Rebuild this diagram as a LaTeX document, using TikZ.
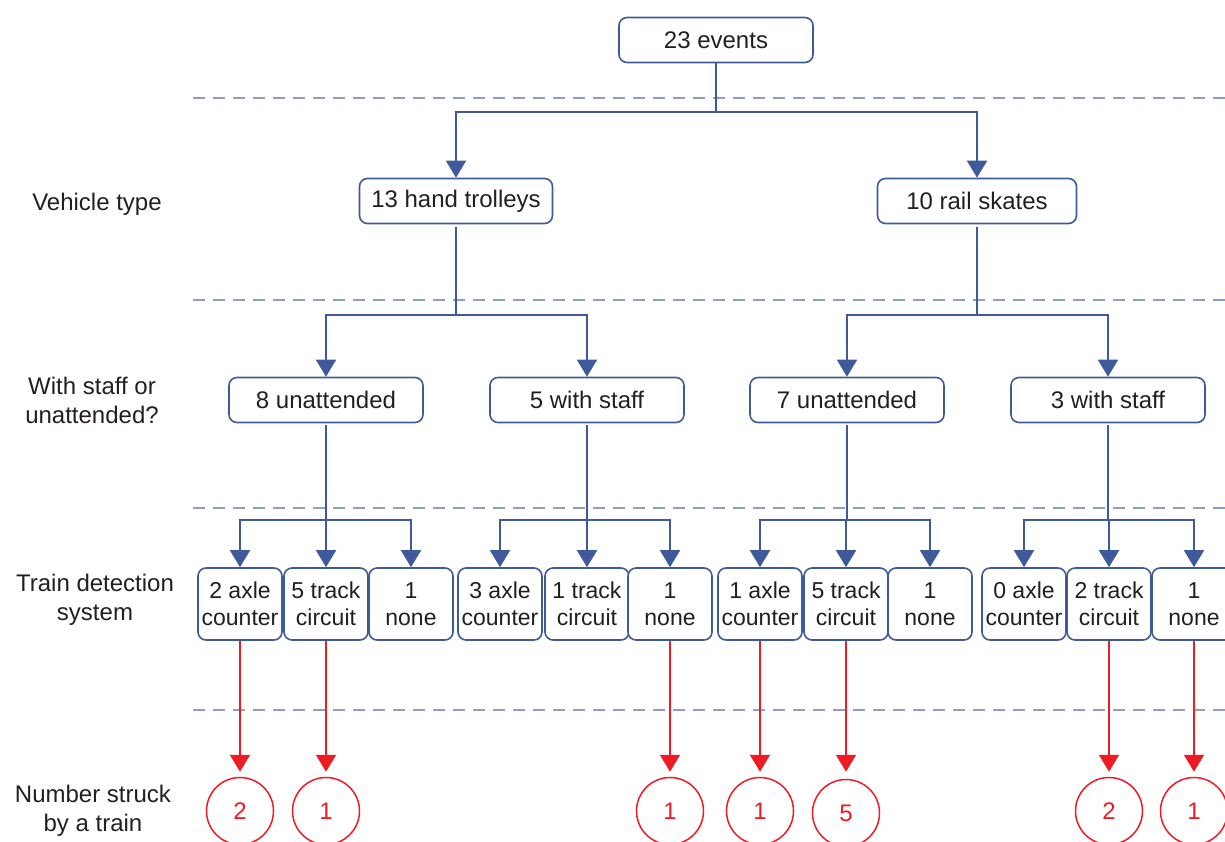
\documentclass[tikz,border=0pt]{standalone}
\usepackage{fontspec}
\setmainfont{Liberation Sans}
\usetikzlibrary{arrows.meta}
\definecolor{nblue}{HTML}{3F5A9B}
\definecolor{dashc}{HTML}{8E9CC8}
\definecolor{nred}{HTML}{ED1C24}
\definecolor{txt}{HTML}{231F20}
\tikzset{
  box/.style={draw=nblue, line width=1.6pt, rounded corners=8pt, fill=white, text=txt,
    font=\fontsize{24}{28}\selectfont, inner sep=2pt},
  big/.style={box, minimum width=194pt, minimum height=45pt},
  small/.style={box, minimum width=84pt, minimum height=72pt, align=center,
    font=\fontsize{23}{27}\selectfont},
  hit/.style={draw=nred, line width=1.5pt, circle, minimum size=67pt, inner sep=0pt,
    text=nred, font=\fontsize{24}{28}\selectfont},
  lbl/.style={align=center, text=txt, font=\fontsize{24}{29}\selectfont},
  barr/.style={draw=nblue, line width=1.8pt, -{Triangle[width=20pt,length=17pt]}},
  rarr/.style={draw=nred, line width=1.8pt, -{Triangle[width=20pt,length=17pt]}, shorten >=5pt},
  sep/.style={draw=dashc, line width=1.5pt, dash pattern=on 12pt off 8pt},
}
\begin{document}
\begin{tikzpicture}[x=1pt,y=-1pt]
\useasboundingbox (0,0) rectangle (1225,841);
% separators
\foreach \yy/\nm in {98/s1,300/s2,508/s3,710/s4}{
  \coordinate (\nm a) at (193,\yy);
  \coordinate (\nm b) at (1225,\yy);
  \draw[sep] (\nm a) -- (\nm b);
}
% left labels
\node[lbl] (L1) at (97,204) {Vehicle type};
\node[lbl] (L2) at (92,400) {With staff or\\unattended?};
\node[lbl] (L3) at (95,600) {Train detection\\system};
\node[lbl] (L4) at (93,811) {Number struck\\by a train};
% level 0
\node[big] (top) at (716,40) {23 events};
% level 1
\node[big, minimum width=193pt] (ht) at (456,201) {13 hand trolleys};
\node[big, minimum width=199pt] (rs) at (977,201) {10 rail skates};
% level 2
\node[big] (u1) at (326,400) {8 unattended};
\node[big] (w1) at (587,400) {5 with staff};
\node[big] (u2) at (847,400) {7 unattended};
\node[big] (w2) at (1108,400) {3 with staff};
% level 3
\node[small] (a1) at (240,604) {2 axle\\counter};
\node[small] (t1) at (326,604) {5 track\\circuit};
\node[small] (n1) at (411,604) {1\\none};
\node[small] (a2) at (500,604) {3 axle\\counter};
\node[small] (t2) at (587,604) {1 track\\circuit};
\node[small] (n2) at (670,604) {1\\none};
\node[small] (a3) at (760,604) {1 axle\\counter};
\node[small] (t3) at (846,604) {5 track\\circuit};
\node[small] (n3) at (930,604) {1\\none};
\node[small] (a4) at (1024,604) {0 axle\\counter};
\node[small] (t4) at (1109,604) {2 track\\circuit};
\node[small] (n4) at (1194,604) {1\\none};
% circles
\node[hit] (c1) at (240,811) {2};
\node[hit] (c2) at (326,811) {1};
\node[hit] (c3) at (670,811) {1};
\node[hit] (c4) at (760,811) {1};
\node[hit] (c5) at (846,813) {5};
\node[hit] (c6) at (1109,811) {2};
\node[hit] (c7) at (1194,811) {1};
% blue connectors
\foreach \c in {ht,rs}{\draw[barr] (top.south) -- ++(0,49) -| (\c.north);}
\foreach \c in {u1,w1}{\draw[barr] ([yshift=-3pt]ht.south) -- ++(0,88) -| (\c.north);}
\foreach \c in {u2,w2}{\draw[barr] ([yshift=-3pt]rs.south) -- ++(0,88) -| (\c.north);}
\foreach \c in {a1,t1,n1}{\draw[barr] ([yshift=-2pt]u1.south) -- ++(0,95) -| (\c.north);}
\foreach \c in {a2,t2,n2}{\draw[barr] ([yshift=-2pt]w1.south) -- ++(0,95) -| (\c.north);}
\foreach \c in {a3,t3,n3}{\draw[barr] ([yshift=-2pt]u2.south) -- ++(0,95) -| (\c.north);}
\foreach \c in {a4,t4,n4}{\draw[barr] ([yshift=-2pt]w2.south) -- ++(0,95) -| (\c.north);}
% red connectors
\draw[rarr] (a1.south) -- (c1.north);
\draw[rarr] (t1.south) -- (c2.north);
\draw[rarr] (n2.south) -- (c3.north);
\draw[rarr] (a3.south) -- (c4.north);
\draw[rarr] (t3.south) -- ([yshift=2pt]c5.north);
\draw[rarr] (t4.south) -- (c6.north);
\draw[rarr] (n4.south) -- (c7.north);
\end{tikzpicture}
\end{document}
